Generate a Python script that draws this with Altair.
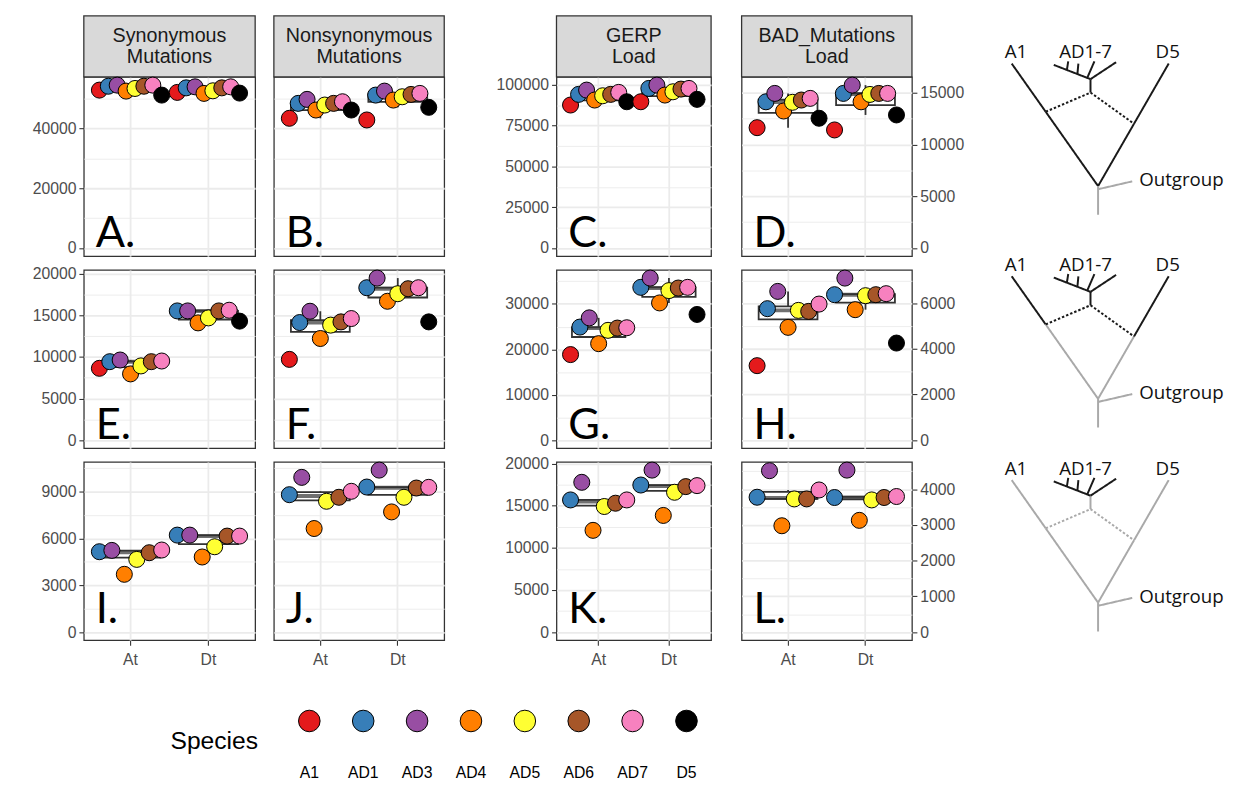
import json
import altair as alt
import pandas as pd

# ---------------- data ----------------
species = ["A1", "AD1", "AD3", "AD4", "AD5", "AD6", "AD7", "D5"]
species_colors = ["#E41A1C", "#377EB8", "#984EA3", "#FF7F00", "#FFFF33", "#A65628", "#F781BF", "#000000"]
genomes = ["At", "Dt"]

# values ordered as `species`; None = species not plotted at that position
syn_all_At = [52900, 54200, 54570, 52570, 53450, 54200, 54570, 51230]
syn_all_Dt = [52130, 53660, 54000, 51800, 52670, 53660, 54000, 51900]
nonsyn_all_At = [43460, 48460, 49800, 46230, 47900, 48460, 49000, 46230]
nonsyn_all_Dt = [42900, 51230, 52570, 49570, 50670, 51460, 51800, 47130]
gerp_all_At = [87630, 94150, 96780, 90680, 93300, 94150, 95370, 89640]
gerp_all_Dt = [89640, 97810, 99820, 93730, 95740, 97390, 97810, 91100]
bad_all_At = [11630, 14130, 14940, 13240, 14080, 14300, 14460, 12540]
bad_all_Dt = [11410, 14940, 15740, 14130, 14840, 14940, 14940, 12860]

syn_diploid_At = [8640, 9440, 9640, 7970, 8930, 9440, 9520, None]
syn_diploid_Dt = [None, 15550, 15550, 14110, 14710, 15550, 15630, 14320]
nonsyn_diploid_At = [9716, 14150, 15510, 12230, 13840, 14230, 14630, None]
nonsyn_diploid_Dt = [None, 18340, 19500, 16710, 17620, 18220, 18340, 14230]
gerp_diploid_At = [18840, 24900, 26930, 21250, 24180, 24680, 24750, None]
gerp_diploid_Dt = [None, 33650, 35690, 30220, 32930, 33500, 33650, 27680]
bad_diploid_At = [3263, 5760, 6517, 4941, 5685, 5641, 5961, None]
bad_diploid_Dt = [None, 6373, 7100, 5716, 6329, 6373, 6417, 4253]

syn_poly_At = [None, 5155, 5240, 3707, 4664, 5091, 5264, None]
syn_poly_Dt = [None, 6220, 6220, 4817, 5474, 6157, 6157, None]
nonsyn_poly_At = [None, 8811, 9921, 6642, 8390, 8645, 9028, None]
nonsyn_poly_Dt = [None, 9302, 10387, 7707, 8645, 9238, 9283, None]
gerp_poly_At = [None, 15690, 17780, 12080, 14910, 15300, 15690, None]
gerp_poly_Dt = [None, 17460, 19230, 13850, 16600, 17270, 17390, None]
bad_poly_At = [None, 3775, 4518, 2977, 3728, 3728, 3978, None]
bad_poly_Dt = [None, 3767, 4534, 3128, 3700, 3767, 3795, None]

strip_line1 = ["Synonymous", "Nonsynonymous", "GERP", "BAD_Mutations"]
strip_line2 = ["Mutations", "Mutations", "Load", "Load"]
panel_letters = ["A.", "B.", "C.", "D.", "E.", "F.", "G.", "H.", "I.", "J.", "K.", "L."]

# axis tick values (major labelled, minor = grid only)
ticks_syn_all = ([0, 20000, 40000], [10000, 30000, 50000])
ticks_gerp_all = ([0, 25000, 50000, 75000, 100000], [12500, 37500, 62500, 87500])
ticks_bad_all = ([0, 5000, 10000, 15000], [2500, 7500, 12500])
ticks_syn_diploid = ([0, 5000, 10000, 15000, 20000], [2500, 7500, 12500, 17500])
ticks_gerp_diploid = ([0, 10000, 20000, 30000], [5000, 15000, 25000, 35000])
ticks_bad_diploid = ([0, 2000, 4000, 6000], [1000, 3000, 5000, 7000])
ticks_syn_poly = ([0, 3000, 6000, 9000], [1500, 4500, 7500, 10500])
ticks_gerp_poly = ([0, 5000, 10000, 15000, 20000], [2500, 7500, 12500, 17500])
ticks_bad_poly = ([0, 1000, 2000, 3000, 4000], [500, 1500, 2500, 3500, 4500])

# tree diagram segments (tree 1; trees 2 and 3 shifted down)
seg_x1 = [1013.3, 1047.8, 1172.7, 1137.5, 1047.8, 1093.3, 1093.3, 1056.0, 1093.3, 1069.3, 1080.0, 1090.0, 1101.0, 1101.0]
seg_y1 = [56.4, 105.3, 56.4, 117.5, 105.3, 85.8, 85.8, 57.7, 72.2, 62.9, 67.0, 70.9, 180.8, 184.0]
seg_x2 = [1047.8, 1101.0, 1137.5, 1101.0, 1093.3, 1137.5, 1093.3, 1093.3, 1119.3, 1070.7, 1081.0, 1097.3, 1101.0, 1135.7]
seg_y2 = [105.3, 180.8, 117.5, 180.8, 85.8, 117.5, 72.2, 72.2, 55.0, 54.1, 56.4, 54.1, 210.0, 176.0]
seg_part = ["a1_tip", "a1_base", "d5_tip", "d5_base", "hybrid", "hybrid", "ad_stem", "ad", "ad",
            "ad", "ad", "ad", "root", "outgroup"]
tree_shift = [0, 216, 423]
tree_dark_parts = [
    ["a1_tip", "a1_base", "d5_tip", "d5_base", "hybrid", "ad_stem", "ad"],
    ["a1_tip", "d5_tip", "hybrid", "ad_stem", "ad"],
    ["ad"],
]
tree_labels = ["A1", "AD1-7", "D5"]
tree_label_x = [1017.7, 1088.3, 1171.7]
tree_label_y = 45
outgroup_label = "Outgroup"
outgroup_x = 1142.7
outgroup_y = 175

GRID = "#EBEBEB"
DARK = "#333333"
FONT = "Liberation Sans"


def long_table(at_vals, dt_vals):
    rows = []
    for g, vals in (("At", at_vals), ("Dt", dt_vals)):
        slot = 0
        for sp, v in zip(species, vals):
            if v is None:
                continue
            rows.append({"genome": g, "species": sp, "value": v, "slot": slot})
            slot += 1
    return pd.DataFrame(rows)


def ydomain(*arrays):
    m = max(v for arr in arrays for v in arr if v is not None)
    return [-0.05 * m, 1.05 * m]


def make_panel(at_vals, dt_vals, letter, width, height, ydom, ticks, ymode, show_x,
               strip=None, letter_drop=9, ext=0):
    df = long_table(at_vals, dt_vals)
    n = int(df["slot"].max()) + 1
    major, minor = ticks
    vals = sorted(major + minor)
    test = "indexof(%s, datum.value) >= 0" % json.dumps(major)
    grid_w = {"condition": {"test": test, "value": 1.8}, "value": 0.9}
    if ymode == "none":
        yax = alt.Axis(values=vals, title=None, labels=False, ticks=False, domain=False,
                       grid=True, gridColor=GRID, gridWidth=grid_w, minExtent=0, maxExtent=0)
    else:
        yax = alt.Axis(orient=ymode, values=vals, title=None, domain=False, grid=True,
                       gridColor=GRID, gridWidth=grid_w, format="d",
                       labelExpr=f"{test} ? datum.label : ''", labelOverlap=False,
                       labelColor="#4D4D4D", labelFontSize=16, labelFont=FONT, labelPadding=3,
                       ticks=True, tickSize=5, tickColor=DARK, tickWidth=1.1,
                       tickOpacity={"condition": {"test": test, "value": 1}, "value": 0},
                       minExtent=ext, maxExtent=ext + 40)
    if show_x:
        xax = alt.Axis(title=None, labelAngle=0, domain=False, grid=True, gridColor=GRID,
                       gridWidth=1.8, bandPosition=0.5, ticks=True, tickSize=5, tickColor=DARK,
                       tickWidth=1.1, labelColor="#4D4D4D", labelFontSize=16, labelFont=FONT,
                       labelPadding=7)
    else:
        xax = alt.Axis(title=None, labels=False, ticks=False, domain=False, grid=True,
                       gridColor=GRID, gridWidth=1.8, bandPosition=0.5)

    x = alt.X("genome:N", scale=alt.Scale(domain=genomes, paddingInner=0.2, paddingOuter=0.2), axis=xax)
    y = alt.Y("value:Q", scale=alt.Scale(domain=ydom, nice=False, zero=False), axis=yax)

    box_size = 0.76 * width / 2.2
    box = alt.Chart(df).mark_boxplot(
        size=box_size, extent=1.5, outliers=False,
        box={"fill": "white", "stroke": DARK, "strokeWidth": 1.8},
        median={"color": DARK, "thickness": 4},
        rule={"color": DARK, "strokeWidth": 1.8},
    ).encode(x=x, y=y)

    pts = alt.Chart(df).mark_circle(size=265, stroke="black", strokeWidth=1, opacity=1).encode(
        x=x, y=y,
        xOffset=alt.XOffset("slot:O", scale=alt.Scale(domain=list(range(n)), paddingInner=0, paddingOuter=0)),
        color=alt.Color("species:N", scale=alt.Scale(domain=species, range=species_colors), legend=None),
    )

    let = alt.Chart(pd.DataFrame({"t": [letter]})).mark_text(
        font="Lato", fontSize=44, align="left", baseline="alphabetic", color="black"
    ).encode(text="t:N", x=alt.value(12), y=alt.value(height - letter_drop))

    layers = []
    if strip is not None:
        sdf = pd.DataFrame({"l1": [strip[0]], "l2": [strip[1]]})
        layers.append(alt.Chart(sdf).mark_rect(fill="#D9D9D9", stroke=DARK, strokeWidth=1.3).encode(
            x=alt.value(0), x2=alt.value(width), y=alt.value(-62), y2=alt.value(0)))
        for field, yy in (("l1", -42), ("l2", -20)):
            layers.append(alt.Chart(sdf).mark_text(
                fontSize=20, font=FONT, color="#1A1A1A", baseline="middle", align="center").encode(
                text=f"{field}:N", x=alt.value(width / 2), y=alt.value(yy)))
    layers += [box, pts, let]
    return alt.layer(*layers).properties(width=width, height=height)


WA, WB, WC, WD = 174, 173, 157, 173
H1, H2, H3 = 182, 181, 181

dom_r1_ab = ydomain(syn_all_At, syn_all_Dt, nonsyn_all_At, nonsyn_all_Dt)
dom_r2_ef = ydomain(syn_diploid_At, syn_diploid_Dt, nonsyn_diploid_At, nonsyn_diploid_Dt)
dom_r3_ij = ydomain(syn_poly_At, syn_poly_Dt, nonsyn_poly_At, nonsyn_poly_Dt)

strips = list(zip(strip_line1, strip_line2))
pA = make_panel(syn_all_At, syn_all_Dt, panel_letters[0], WA, H1, dom_r1_ab, ticks_syn_all, "left", False, strips[0], 9, 76)
pB = make_panel(nonsyn_all_At, nonsyn_all_Dt, panel_letters[1], WB, H1, dom_r1_ab, ticks_syn_all, "none", False, strips[1], 9)
pC = make_panel(gerp_all_At, gerp_all_Dt, panel_letters[2], WC, H1, ydomain(gerp_all_At, gerp_all_Dt), ticks_gerp_all, "left", False, strips[2], 9, 84)
pD = make_panel(bad_all_At, bad_all_Dt, panel_letters[3], WD, H1, ydomain(bad_all_At, bad_all_Dt), ticks_bad_all, "right", False, strips[3], 9, 56)

pE = make_panel(syn_diploid_At, syn_diploid_Dt, panel_letters[4], WA, H2, dom_r2_ef, ticks_syn_diploid, "left", False, None, 9, 76)
pF = make_panel(nonsyn_diploid_At, nonsyn_diploid_Dt, panel_letters[5], WB, H2, dom_r2_ef, ticks_syn_diploid, "none", False, None, 9)
pG = make_panel(gerp_diploid_At, gerp_diploid_Dt, panel_letters[6], WC, H2, ydomain(gerp_diploid_At, gerp_diploid_Dt), ticks_gerp_diploid, "left", False, None, 9, 84)
pH = make_panel(bad_diploid_At, bad_diploid_Dt, panel_letters[7], WD, H2, ydomain(bad_diploid_At, bad_diploid_Dt), ticks_bad_diploid, "right", False, None, 9, 56)

pI = make_panel(syn_poly_At, syn_poly_Dt, panel_letters[8], WA, H3, dom_r3_ij, ticks_syn_poly, "left", True, None, 18, 76)
pJ = make_panel(nonsyn_poly_At, nonsyn_poly_Dt, panel_letters[9], WB, H3, dom_r3_ij, ticks_syn_poly, "none", True, None, 18)
pK = make_panel(gerp_poly_At, gerp_poly_Dt, panel_letters[10], WC, H3, ydomain(gerp_poly_At, gerp_poly_Dt), ticks_gerp_poly, "left", True, None, 18, 84)
pL = make_panel(bad_poly_At, bad_poly_Dt, panel_letters[11], WD, H3, ydomain(bad_poly_At, bad_poly_Dt), ticks_bad_poly, "right", True, None, 18, 56)

RES = dict(x="independent", y="independent", xOffset="independent")


def column(*charts):
    return alt.vconcat(*charts, spacing=14, bounds="flush").resolve_scale(**RES)


colA = column(pA, pE, pI)
colB = column(pB, pF, pJ)
colC = column(pC, pG, pK)
colD = column(pD, pH, pL)

# ---------------- trees ----------------
trows = []
for t, shift in enumerate(tree_shift):
    for x1, y1, x2, y2, part in zip(seg_x1, seg_y1, seg_x2, seg_y2, seg_part):
        trows.append({
            "x1": x1, "y1": y1 + shift, "x2": x2, "y2": y2 + shift,
            "tone": "dark" if part in tree_dark_parts[t] else "light",
            "style": "dotted" if part == "hybrid" else "solid",
        })
tree_df = pd.DataFrame(trows)
lab_rows = []
for shift in tree_shift:
    for lab, lx in zip(tree_labels, tree_label_x):
        lab_rows.append({"x": lx, "y": tree_label_y + shift, "t": lab})
lab_df = pd.DataFrame(lab_rows)
out_df = pd.DataFrame({"x": [outgroup_x] * 3, "y": [outgroup_y + s for s in tree_shift], "t": [outgroup_label] * 3})

# the tree panel's origin lines up with the top of the first row of plots
TX = alt.Scale(domain=[997, 1236])
TY = alt.Scale(domain=[70, 645], reverse=True)
tree_lines = alt.Chart(tree_df).mark_rule(strokeWidth=2).encode(
    x=alt.X("x1:Q", scale=TX, axis=None), y=alt.Y("y1:Q", scale=TY, axis=None),
    x2="x2:Q", y2="y2:Q",
    stroke=alt.Stroke("tone:N", scale=alt.Scale(domain=["dark", "light"], range=["#1A1A1A", "#A9A9A9"]), legend=None),
    strokeDash=alt.StrokeDash("style:N", scale=alt.Scale(domain=["solid", "dotted"], range=[[1, 0], [2.5, 2]]), legend=None),
)
tree_text = alt.Chart(lab_df).mark_text(font="Open Sans", fontSize=19, color="#111111", baseline="middle").encode(
    x=alt.X("x:Q", scale=TX, axis=None), y=alt.Y("y:Q", scale=TY, axis=None), text="t:N")
tree_out = alt.Chart(out_df).mark_text(font="Open Sans", fontSize=19, color="#111111", baseline="middle", align="left").encode(
    x=alt.X("x:Q", scale=TX, axis=None), y=alt.Y("y:Q", scale=TY, axis=None), text="t:N")
tree = alt.layer(tree_lines, tree_text, tree_out).properties(
    width=239, height=575, view=alt.ViewBackground(stroke="transparent"))

# ---------------- legend ----------------
# legend origin lines up with the first plot's left edge (page x = 84)
leg_df = pd.DataFrame({"species": species})
LX = alt.X("species:N", scale=alt.Scale(type="point", domain=species, range=[229, 612], padding=0), axis=None)
leg_pts = alt.Chart(leg_df).mark_circle(size=480, stroke="black", strokeWidth=1, opacity=1).encode(
    x=LX, y=alt.value(40),
    color=alt.Color("species:N", scale=alt.Scale(domain=species, range=species_colors), legend=None))
leg_txt = alt.Chart(leg_df).mark_text(fontSize=16, font=FONT, color="black", baseline="middle").encode(
    x=LX, y=alt.value(93), text="species:N")
leg_title = alt.Chart(pd.DataFrame({"t": ["Species"]})).mark_text(
    fontSize=25, font=FONT, color="black", align="left", baseline="middle").encode(
    text="t:N", x=alt.value(88), y=alt.value(60))
legend = alt.layer(leg_pts, leg_txt, leg_title).properties(
    width=700, height=100, view=alt.ViewBackground(stroke="transparent"))

left = alt.hconcat(colA, colB, spacing=15).resolve_scale(**RES)
main = alt.hconcat(left, colC, colD, tree, spacing=27).resolve_scale(**RES)
chart = alt.vconcat(main, legend, spacing=12).resolve_scale(**RES).properties(padding=0).configure(
    font=FONT).configure_view(stroke=DARK, strokeWidth=1.3)

chart.save("out.html", embed_options={"renderer": "svg", "actions": False})
